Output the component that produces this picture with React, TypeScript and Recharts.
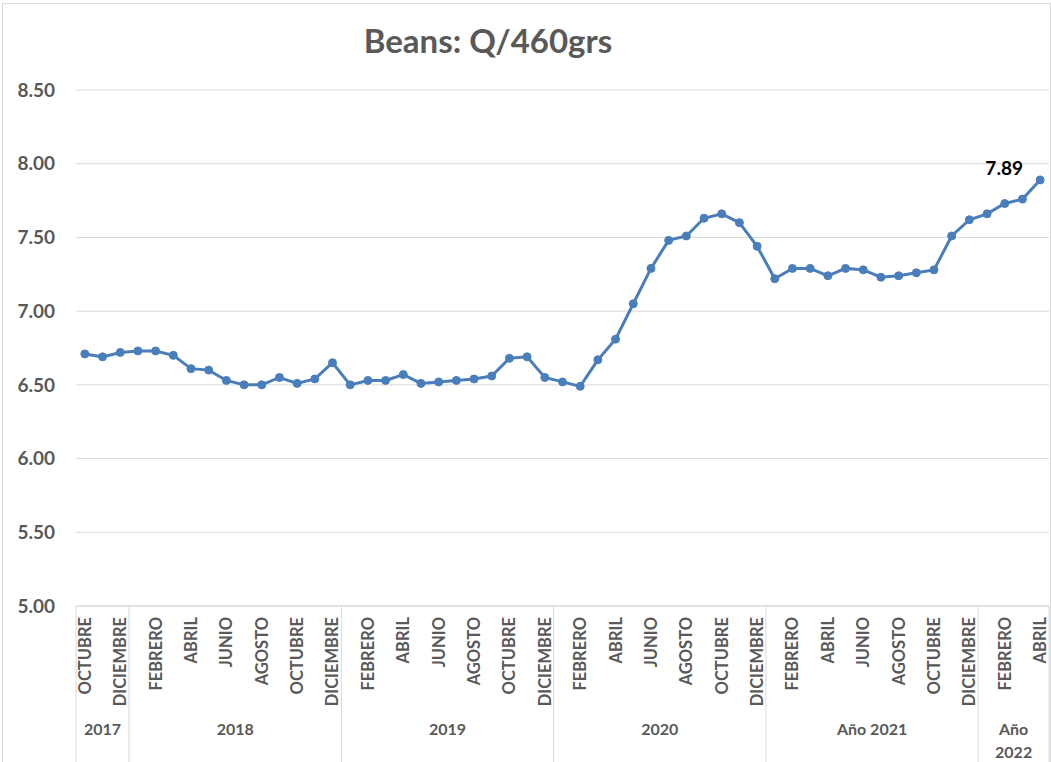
import React from "react";
import { LineChart, Line, XAxis, YAxis, CartesianGrid, LabelList } from "recharts";

// Monthly bean price (Q per 460 g), Oct 2017 – Apr 2022
const monthNames = [
  "ENERO", "FEBRERO", "MARZO", "ABRIL", "MAYO", "JUNIO",
  "JULIO", "AGOSTO", "SEPTIEMBRE", "OCTUBRE", "NOVIEMBRE", "DICIEMBRE",
];
const yearLabels = ["2017", "2018", "2019", "2020", "Año 2021", "Año 2022"];
const yearFirstMonth = [9, 0, 0, 0, 0, 0];
const yearMonthCount = [3, 12, 12, 12, 12, 4];

const prices2017 = [6.71, 6.69, 6.72];
const prices2018 = [6.73, 6.73, 6.7, 6.61, 6.6, 6.53, 6.5, 6.5, 6.55, 6.51, 6.54, 6.65];
const prices2019 = [6.5, 6.53, 6.53, 6.57, 6.51, 6.52, 6.53, 6.54, 6.56, 6.68, 6.69, 6.55];
const prices2020 = [6.52, 6.49, 6.67, 6.81, 7.05, 7.29, 7.48, 7.51, 7.63, 7.66, 7.6, 7.44];
const prices2021 = [7.22, 7.29, 7.29, 7.24, 7.29, 7.28, 7.23, 7.24, 7.26, 7.28, 7.51, 7.62];
const prices2022 = [7.66, 7.73, 7.76, 7.89];
const pricesByYear = [prices2017, prices2018, prices2019, prices2020, prices2021, prices2022];

const yTicks = [5, 5.5, 6, 6.5, 7, 7.5, 8, 8.5];

const data = yearLabels.flatMap((year, g) =>
  pricesByYear[g].slice(0, yearMonthCount[g]).map((price, k) => ({
    month: monthNames[yearFirstMonth[g] + k],
    year,
    group: g,
    price,
  }))
);

const W = 1051;
const H = 762;
const RIGHT = 2;
const Y_AXIS_W = 76;
const AXIS_H = 156;
const LABEL_GAP = 11;
// half of one month's slot, so points sit in the middle of their slot
const HALF = (W - RIGHT - Y_AXIS_W) / data.length / 2;
const FONT = "Lato, 'Open Sans', sans-serif";
const GRAY = "#595959";
const RULE = "#d9d9d9";
const BLUE = "#4A7EBB";

function MonthTick(props: any) {
  const { x, y, payload } = props;
  const i: number = payload.index ?? props.index;
  const top = y - LABEL_GAP;
  const row = data[i];
  const startsGroup = i === 0 || data[i - 1].group !== row.group;
  const isLast = i === data.length - 1;
  const parts: React.ReactNode[] = [];

  if (i % 2 === 0) {
    parts.push(
      <text
        key="m"
        x={x}
        y={y}
        transform={`rotate(-90 ${x} ${y})`}
        textAnchor="end"
        dy="0.36em"
        fill={GRAY}
        fontSize={16.5}
        fontWeight={700}
        fontFamily={FONT}
      >
        {row.month}
      </text>
    );
  }

  if (startsGroup) {
    const left = x - HALF;
    const count = yearMonthCount[row.group];
    const cx = left + count * HALF;
    // narrow groups wrap their label onto two lines
    const words = count < 6 ? row.year.split(" ") : [row.year];
    parts.push(<line key="s" x1={left} x2={left} y1={top} y2={top + AXIS_H} stroke={RULE} />);
    parts.push(
      <text
        key="y"
        x={cx}
        y={top + 129}
        textAnchor="middle"
        fill={GRAY}
        fontSize={16}
        fontWeight={700}
        fontFamily={FONT}
      >
        {words.map((w, k) => (
          <tspan key={k} x={cx} dy={k === 0 ? 0 : 23}>
            {w}
          </tspan>
        ))}
      </text>
    );
  }

  if (isLast) {
    const right = x + HALF;
    parts.push(<line key="e" x1={right} x2={right} y1={top} y2={top + AXIS_H} stroke={RULE} />);
  }

  return <g>{parts}</g>;
}

function LastValueLabel(props: any) {
  const { index, value } = props;
  if (index !== data.length - 1) return null;
  const px = props.x ?? props.viewBox?.x;
  const py = props.y ?? props.viewBox?.y;
  return (
    <text
      x={px - 36}
      y={py - 5}
      textAnchor="middle"
      fill="#000"
      fontSize={19}
      fontWeight={700}
      fontFamily={FONT}
    >
      {Number(value).toFixed(2)}
    </text>
  );
}

export default function App() {
  return (
    <div style={{ position: "absolute", left: 0, top: 0, width: W, height: H, overflow: "hidden", background: "#fff" }}>
      <div
        style={{
          position: "absolute",
          left: 2,
          top: 3,
          width: W - 2,
          height: H + 10,
          border: `1px solid ${RULE}`,
          boxSizing: "border-box",
        }}
      />
      <div
        style={{
          position: "absolute",
          left: 0,
          top: 20,
          width: 976,
          textAlign: "center",
          fontFamily: FONT,
          fontWeight: 700,
          fontSize: 33,
          color: GRAY,
          lineHeight: "40px",
        }}
      >
        Beans: Q/460grs
      </div>
      <div style={{ position: "absolute", left: 0, top: 0 }}>
        <LineChart width={W} height={H} data={data} margin={{ top: 90, right: RIGHT, bottom: 0, left: 0 }}>
          <CartesianGrid vertical={false} stroke={RULE} />
          <XAxis
            dataKey="month"
            interval={0}
            height={AXIS_H}
            padding={{ left: HALF, right: HALF }}
            axisLine={{ stroke: RULE }}
            tickLine={false}
            tickSize={0}
            tickMargin={LABEL_GAP}
            tick={<MonthTick />}
          />
          <YAxis
            width={Y_AXIS_W}
            domain={[5, 8.5]}
            ticks={yTicks}
            axisLine={false}
            tickLine={false}
            tickSize={0}
            tickMargin={21}
            tickFormatter={(v: number) => v.toFixed(2)}
            tick={{ fill: GRAY, fontSize: 19, fontWeight: 700, fontFamily: FONT }}
          />
          <Line
            type="linear"
            dataKey="price"
            stroke={BLUE}
            strokeWidth={3}
            dot={{ r: 4, fill: BLUE, stroke: BLUE, strokeWidth: 1 }}
            activeDot={false}
            isAnimationActive={false}
          >
            <LabelList dataKey="price" content={<LastValueLabel />} />
          </Line>
        </LineChart>
      </div>
    </div>
  );
}
